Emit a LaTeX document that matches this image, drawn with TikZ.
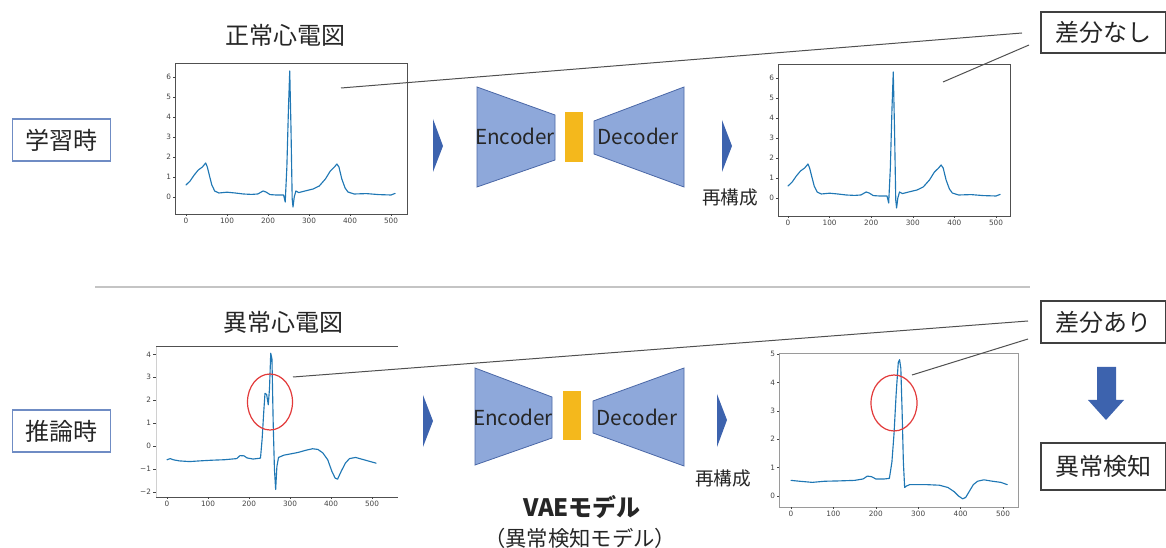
\documentclass[tikz,border=0pt]{standalone}
\usepackage{fontspec}
\setmainfont{Noto Sans CJK JP}
\newfontfamily\tickfont{DejaVu Sans}
\usetikzlibrary{calc}
\definecolor{ecgblue}{HTML}{1F77B4}
\definecolor{framegray}{HTML}{505050}
\definecolor{lightframe}{HTML}{9A9A9A}
\definecolor{faintframe}{HTML}{D0D0D0}
\definecolor{tickgray}{HTML}{444444}
\definecolor{trapfill}{HTML}{8EA8DA}
\definecolor{trapdraw}{HTML}{4A67A6}
\definecolor{latentyellow}{HTML}{F4B81C}
\definecolor{chevblue}{HTML}{3D63AE}
\definecolor{boxblue}{HTML}{6F8CC4}
\definecolor{boxgray}{HTML}{404040}
\definecolor{linegray}{HTML}{505050}
\definecolor{sepgray}{HTML}{C4C4C4}
\definecolor{textdark}{HTML}{262626}
\definecolor{ringred}{HTML}{E23A3A}
\tikzset{
  ecg/.style={draw=ecgblue, line width=0.85pt, line join=round, line cap=round},
  chartframe/.style={draw=framegray, line width=0.7pt},
  lightchartframe/.style={draw=lightframe, line width=0.6pt},
  ticklabel/.style={font=\tickfont\fontsize{5.5}{5.5}\selectfont, text=tickgray, inner sep=0.6pt},
  tickmark/.style={draw=tickgray, line width=0.4pt},
  trap/.style={fill=trapfill, draw=trapdraw, line width=0.6pt},
  latent/.style={fill=latentyellow, draw=none},
  chev/.style={fill=chevblue, draw=none},
  modebox/.style={draw=boxblue, line width=0.8pt, fill=white, minimum width=74pt, minimum height=31.5pt, inner sep=0pt, font=\fontsize{18}{20}\selectfont, text=textdark},
  resultbox/.style={draw=boxgray, line width=0.8pt, fill=white, minimum width=93.75pt, inner sep=0pt, font=\fontsize{18}{20}\selectfont, text=textdark},
  callout/.style={draw=linegray, line width=0.75pt},
  titletext/.style={font=\fontsize{18}{20}\selectfont, text=textdark, inner sep=0pt},
  recontext/.style={font=\fontsize{14}{16}\selectfont, text=textdark, inner sep=0pt},
  enctext/.style={font=\fontsize{15.5}{17}\selectfont, text=textdark, inner sep=0pt},
  ring/.style={draw=ringred, line width=0.9pt},
}
\begin{document}
\begin{tikzpicture}[x=0.75pt,y=-0.75pt]
\useasboundingbox (0,0) rectangle (1166,548);

% separator
\draw[draw=sepgray, line width=0.9pt] (95,287) -- (1030,287);

% ---------------- top-left chart ----------------
\draw[chartframe] (175,63) rectangle (407,214);
\foreach \v in {0,...,6} {
  \draw[tickmark] (173,{197-20*\v}) -- (175,{197-20*\v});
  \node[ticklabel, anchor=east] at (172,{197-20*\v}) {\v};
}
\foreach \v in {0,100,...,500} {
  \draw[tickmark] ({186+0.41*\v},214) -- ({186+0.41*\v},216);
  \node[ticklabel, anchor=north] at ({186+0.41*\v},217) {\v};
}
\begin{scope}[shift={(186,197)}, xscale=0.41, yscale=-20]
\draw[ecg] (0,0.6) -- (5,0.7) -- (10,0.8) -- (20,1.1) -- (30,1.35) -- (40,1.5) -- (48,1.7) -- (52,1.5) -- (58,1.0) -- (63,0.6) -- (70,0.3) -- (80,0.2) -- (100,0.24) -- (120,0.2) -- (140,0.15) -- (160,0.13) -- (175,0.15) -- (188,0.3) -- (195,0.25) -- (205,0.12) -- (220,0.1) -- (238,0.1) -- (242,-0.25) -- (246,1.5) -- (250,4.5) -- (253,6.3) -- (256,3.5) -- (259,-0.1) -- (261,-0.5) -- (264,0) -- (268,0.3) -- (275,0.22) -- (290,0.3) -- (310,0.4) -- (325,0.55) -- (340,0.9) -- (352,1.3) -- (362,1.5) -- (368,1.65) -- (373,1.5) -- (380,0.9) -- (388,0.45) -- (395,0.25) -- (410,0.15) -- (440,0.17) -- (470,0.12) -- (500,0.1) -- (510,0.18);
\end{scope}

% ---------------- top-right chart ----------------
\draw[chartframe] (778,64) rectangle (1010,216);
\foreach \v in {0,...,6} {
  \draw[tickmark] (776,{198-20*\v}) -- (778,{198-20*\v});
  \node[ticklabel, anchor=east] at (775,{198-20*\v}) {\v};
}
\foreach \v in {0,100,...,500} {
  \draw[tickmark] ({788+0.416*\v},216) -- ({788+0.416*\v},218);
  \node[ticklabel, anchor=north] at ({788+0.416*\v},219) {\v};
}
\begin{scope}[shift={(788,198)}, xscale=0.416, yscale=-20]
\draw[ecg] (0,0.6) -- (5,0.7) -- (10,0.8) -- (20,1.1) -- (30,1.35) -- (40,1.5) -- (48,1.7) -- (52,1.5) -- (58,1.0) -- (63,0.6) -- (70,0.3) -- (80,0.2) -- (100,0.24) -- (120,0.2) -- (140,0.15) -- (160,0.13) -- (175,0.15) -- (188,0.3) -- (195,0.25) -- (205,0.12) -- (220,0.1) -- (238,0.1) -- (242,-0.25) -- (246,1.5) -- (250,4.5) -- (253,6.3) -- (256,3.5) -- (259,-0.1) -- (261,-0.5) -- (264,0) -- (268,0.3) -- (275,0.22) -- (290,0.3) -- (310,0.4) -- (325,0.55) -- (340,0.9) -- (352,1.3) -- (362,1.5) -- (368,1.65) -- (373,1.5) -- (380,0.9) -- (388,0.45) -- (395,0.25) -- (410,0.15) -- (440,0.17) -- (470,0.12) -- (500,0.1) -- (510,0.18);
\end{scope}

% ---------------- bottom-left chart ----------------
\draw[draw=faintframe, line width=0.5pt] (156,346) -- (156,497);
\draw[chartframe] (156,346) -- (398,346);
\draw[chartframe] (156,497) -- (398,497);
\foreach \v/\t in {4/4,3/3,2/2,1/1,0/0,-1/−1,-2/−2} {
  \draw[tickmark] (153,{446-22.9*\v}) -- (156,{446-22.9*\v});
  \node[ticklabel, anchor=east] at (152,{446-22.9*\v}) {\t};
}
\foreach \v in {0,100,...,500} {
  \draw[tickmark] ({167+0.41*\v},497) -- ({167+0.41*\v},499);
  \node[ticklabel, anchor=north] at ({167+0.41*\v},500) {\v};
}
\begin{scope}[shift={(167,446)}, xscale=0.41, yscale=-22.9]
\draw[ecg] (0,-0.6) -- (8,-0.55) -- (15,-0.6) -- (30,-0.65) -- (55,-0.68) -- (80,-0.65) -- (110,-0.62) -- (140,-0.6) -- (170,-0.55) -- (178,-0.42) -- (188,-0.43) -- (195,-0.52) -- (210,-0.57) -- (228,-0.53) -- (232,0.3) -- (236,1.5) -- (239,2.3) -- (243,2.25) -- (247,1.8) -- (250,2.5) -- (253,4.05) -- (256,3.8) -- (259,1.0) -- (262,-1.0) -- (265,-1.9) -- (268,-0.9) -- (272,-0.5) -- (285,-0.4) -- (300,-0.35) -- (320,-0.28) -- (340,-0.18) -- (355,-0.12) -- (368,-0.15) -- (380,-0.3) -- (392,-0.6) -- (402,-1.1) -- (410,-1.4) -- (416,-1.45) -- (425,-1.1) -- (435,-0.75) -- (445,-0.55) -- (460,-0.5) -- (480,-0.6) -- (500,-0.7) -- (510,-0.75);
\end{scope}
\draw[ring] (270,402) ellipse [x radius=22.5, y radius=28];

% ---------------- bottom-right chart ----------------
\draw[lightchartframe] (779,353) rectangle (1018,507);
\foreach \v in {0,...,5} {
  \draw[tickmark] (777,{496-28.4*\v}) -- (779,{496-28.4*\v});
  \node[ticklabel, anchor=east] at (776,{496-28.4*\v}) {\v};
}
\foreach \v in {0,100,...,500} {
  \draw[tickmark] ({791+0.424*\v},507) -- ({791+0.424*\v},509);
  \node[ticklabel, anchor=north] at ({791+0.424*\v},510) {\v};
}
\begin{scope}[shift={(791,496)}, xscale=0.424, yscale=-28.4]
\draw[ecg] (0,0.55) -- (20,0.52) -- (50,0.48) -- (80,0.52) -- (110,0.53) -- (150,0.55) -- (170,0.6) -- (180,0.7) -- (190,0.68) -- (200,0.6) -- (220,0.6) -- (232,0.62) -- (238,1.2) -- (243,2.2) -- (248,3.6) -- (253,4.7) -- (256,4.8) -- (259,4.5) -- (262,3.0) -- (265,1.2) -- (268,0.3) -- (272,0.35) -- (280,0.4) -- (320,0.4) -- (350,0.38) -- (370,0.3) -- (385,0.15) -- (395,0.0) -- (405,-0.1) -- (412,-0.05) -- (420,0.15) -- (430,0.4) -- (440,0.52) -- (455,0.57) -- (475,0.52) -- (495,0.48) -- (510,0.4);
\end{scope}
\draw[ring] (894,403) ellipse [x radius=23, y radius=28];

% ---------------- titles ----------------
\node[titletext] (tnorm) at (285,35) {正常心電図};
\node[titletext] (tabn) at (283,322) {異常心電図};
\node[recontext] (rc1) at (730,197) {再構成};
\node[recontext] (rc2) at (723,478) {再構成};
\node[titletext, font=\bfseries\fontsize{18}{20}\selectfont] (vae) at (582,507) {VAEモデル};
\node[titletext, font=\fontsize{16}{18}\selectfont] (vaesub) at (580,538) {（異常検知モデル）};

% ---------------- mode boxes ----------------
\node[modebox] (learn) at (61.5,140) {学習時};
\node[modebox] (infer) at (61.5,431) {推論時};

% ---------------- top VAE ----------------
\fill[chev] (433,119) -- (443,146) -- (433,172) -- cycle;
\draw[trap] (477,87) -- (555,115) -- (555,160) -- (477,187) -- cycle;
\fill[latent] (565,112) rectangle (583,162);
\draw[trap] (594,121) -- (684,87) -- (684,187) -- (594,154) -- cycle;
\node[enctext] (enc1) at (515,136) {Encoder};
\node[enctext] (dec1) at (638,136) {Decoder};
\fill[chev] (722,120) -- (732,146) -- (722,172) -- cycle;

% ---------------- bottom VAE ----------------
\fill[chev] (423,395) -- (433,421) -- (423,447) -- cycle;
\draw[trap] (475,368) -- (552,397) -- (552,438) -- (475,465) -- cycle;
\fill[latent] (563,391) rectangle (581,440);
\draw[trap] (593,401) -- (684,368) -- (684,466) -- (593,433) -- cycle;
\node[enctext] (enc2) at (513,417) {Encoder};
\node[enctext] (dec2) at (637,417) {Decoder};
\fill[chev] (717,394) -- (727,420) -- (717,447) -- cycle;

% ---------------- result boxes ----------------
\node[resultbox, minimum height=30.75pt] (nodiff) at (1103.5,32.5) {差分なし};
\node[resultbox, minimum height=31.5pt] (diff) at (1103.5,322) {差分あり};
\node[resultbox, minimum height=35.25pt] (anom) at (1103.5,466.5) {異常検知};

% down arrow
\fill[chev] (1097,367) -- (1116,367) -- (1116,400) -- (1124,400) -- (1106,420) -- (1088,400) -- (1097,400) -- cycle;

% ---------------- callout lines ----------------
\coordinate (a1) at (341,88);
\coordinate (a2) at (1022,33);
\coordinate (b1) at (943,82);
\coordinate (b2) at (1029,45);
\coordinate (c1) at (293,377);
\coordinate (c2) at (1028,321);
\coordinate (d1) at (912,375);
\coordinate (d2) at (1028,339);
\draw[callout] (a1) -- (a2);
\draw[callout] (b1) -- (b2);
\draw[callout] (c1) -- (c2);
\draw[callout] (d1) -- (d2);
\end{tikzpicture}
\end{document}
